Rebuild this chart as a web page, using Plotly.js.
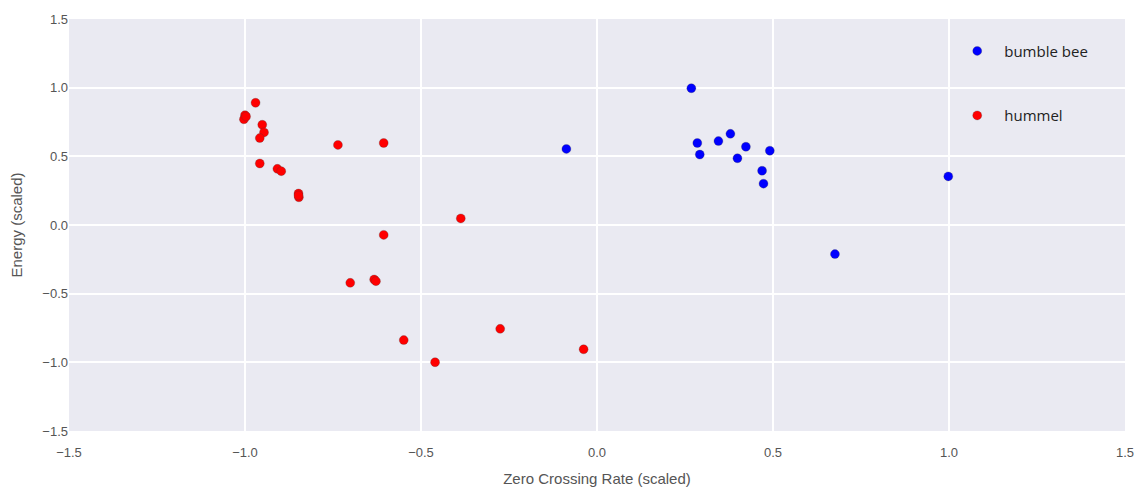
<!DOCTYPE html>
<html>
<head>
<meta charset="utf-8">
<script src="https://cdn.plot.ly/plotly-3.0.1.min.js"></script>
<style>html,body{margin:0;padding:0;background:#fff}#chart{width:1137px;height:493px}</style>
</head>
<body>
<div id="chart"></div>
<script>
// Data
const bumbleBeeZcr = [-0.087, 0.268, 0.285, 0.292, 0.345, 0.379, 0.423, 0.399, 0.491, 0.469, 0.473, 0.998, 0.676];
const bumbleBeeEnergy = [0.554, 0.996, 0.597, 0.513, 0.611, 0.664, 0.570, 0.486, 0.541, 0.395, 0.301, 0.354, -0.212];

const hummelZcr = [-0.970, -1.000, -1.003, -0.997, -0.951, -0.946, -0.958, -0.736, -0.606, -0.958, -0.908, -0.897, -0.848, -0.847, -0.848,
                   -0.387, -0.606, -0.701, -0.633, -0.628, -0.549, -0.275, -0.038, -0.460];
const hummelEnergy = [0.890, 0.800, 0.770, 0.790, 0.730, 0.674, 0.633, 0.583, 0.597, 0.448, 0.409, 0.392, 0.229, 0.202, 0.215,
                      0.048, -0.072, -0.421, -0.397, -0.409, -0.838, -0.756, -0.905, -0.999];

const seriesNames = ['bumble bee', 'hummel'];
const xTicks = [-1.5, -1.0, -0.5, 0.0, 0.5, 1.0, 1.5];
const xTickText = ['\u22121.5', '\u22121.0', '\u22120.5', '0.0', '0.5', '1.0', '1.5'];
const yTicks = [-1.5, -1.0, -0.5, 0.0, 0.5, 1.0, 1.5];
const yTickText = ['\u22121.5', '\u22121.0', '\u22120.5', '0.0', '0.5', '1.0', '1.5'];

const markerLine = {width: 0.6, color: 'rgba(60,60,60,0.45)'};
const traces = [
  {x: bumbleBeeZcr, y: bumbleBeeEnergy, name: seriesNames[0], mode: 'markers', type: 'scatter', legendgroup: 'a',
   marker: {color: '#0000FF', size: 9, line: markerLine}},
  {x: hummelZcr, y: hummelEnergy, name: seriesNames[1], mode: 'markers', type: 'scatter', legendgroup: 'b',
   marker: {color: '#FF0000', size: 9, line: markerLine}}
];

const fam = 'Liberation Sans, Arial, sans-serif';
const tickFont = {family: fam, size: 13, color: '#555'};
const layout = {
  width: 1137, height: 493,
  margin: {l: 69, r: 12, t: 19, b: 62},
  paper_bgcolor: '#FFFFFF', plot_bgcolor: '#EAEAF2',
  showlegend: true,
  legend: {x: 0.8345, y: 0.962, xanchor: 'left', yanchor: 'top', bgcolor: 'rgba(0,0,0,0)', borderwidth: 0,
           font: {family: 'Open Sans, DejaVu Sans, sans-serif', size: 15, color: '#222'},
           traceorder: 'grouped', tracegroupgap: 42, itemwidth: 44},
  xaxis: {range: [-1.5, 1.5], tickvals: xTicks, ticktext: xTickText, showgrid: true, gridcolor: '#FFFFFF', gridwidth: 2,
          zeroline: false, showline: false, ticks: '', tickfont: tickFont, ticklabelstandoff: 12,
          title: {text: 'Zero Crossing Rate (scaled)', font: {family: fam, size: 15, color: '#555'}, standoff: 14}},
  yaxis: {range: [-1.5, 1.5], tickvals: yTicks, ticktext: yTickText, showgrid: true, gridcolor: '#FFFFFF', gridwidth: 2,
          zeroline: false, showline: false, ticks: '', tickfont: tickFont,
          title: {text: 'Energy (scaled)', font: {family: fam, size: 15, color: '#555'}, standoff: 16}}
};

Plotly.newPlot('chart', traces, layout, {displayModeBar: false, staticPlot: true});
</script>
</body>
</html>
